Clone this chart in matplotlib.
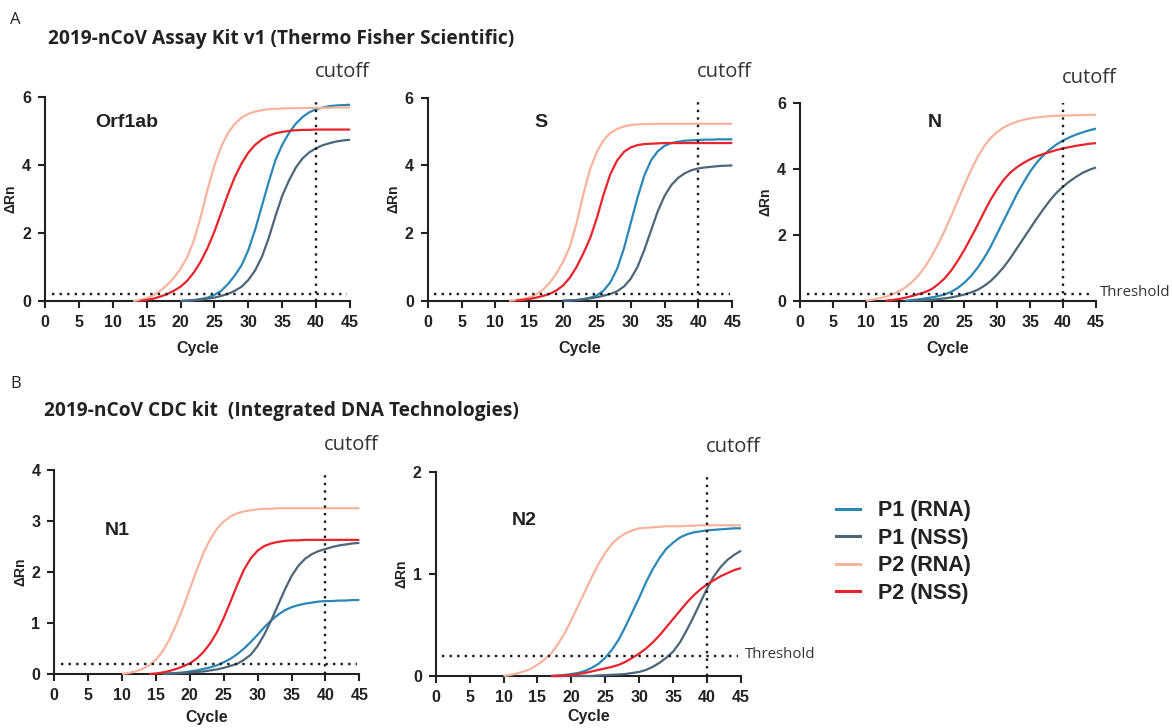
import numpy as np
import matplotlib
matplotlib.use("Agg")
import matplotlib.pyplot as plt
from matplotlib.lines import Line2D

# ---- data (delta Rn per cycle, each curve starts at its first cycle) ----
series_names = ["P1 (RNA)", "P1 (NSS)", "P2 (RNA)", "P2 (NSS)"]
series_colors = ["#2b88b6", "#4c6679", "#f8b39d", "#e8232b"]

orf1ab_start = [20, 20, 13, 14]
orf1ab_p1_rna = [0.0, 0.01, 0.03, 0.06, 0.1, 0.18, 0.3, 0.5, 0.75, 1.05, 1.5, 2.1, 2.8, 3.5, 4.15, 4.6,
                 4.95, 5.22, 5.42, 5.56, 5.65, 5.7, 5.74, 5.76, 5.77, 5.78]
orf1ab_p1_nss = [0.0, 0.01, 0.02, 0.04, 0.07, 0.1, 0.15, 0.21, 0.3, 0.42, 0.62, 0.9, 1.3, 1.85, 2.5, 3.1,
                 3.55, 3.93, 4.2, 4.38, 4.5, 4.59, 4.65, 4.7, 4.73, 4.75]
orf1ab_p2_rna = [0.0, 0.03, 0.08, 0.17, 0.3, 0.47, 0.68, 0.95, 1.3, 1.8, 2.5, 3.3, 4.0, 4.55, 4.95, 5.22,
                 5.4, 5.51, 5.58, 5.62, 5.65, 5.66, 5.67, 5.68, 5.68, 5.68, 5.69, 5.69, 5.69, 5.69, 5.7,
                 5.7, 5.7]
orf1ab_p2_nss = [0.0, 0.03, 0.07, 0.13, 0.2, 0.3, 0.42, 0.6, 0.85, 1.17, 1.57, 2.05, 2.6, 3.15, 3.65,
                 4.05, 4.37, 4.6, 4.76, 4.87, 4.94, 4.98, 5.01, 5.03, 5.04, 5.04, 5.05, 5.05, 5.05, 5.05,
                 5.05, 5.05]

s_start = [20, 20, 12, 13]
s_p1_rna = [0.0, 0.01, 0.02, 0.05, 0.09, 0.16, 0.3, 0.55, 0.95, 1.55, 2.3, 3.05, 3.7, 4.15, 4.42, 4.58,
            4.66, 4.7, 4.73, 4.74, 4.75, 4.76, 4.76, 4.77, 4.77, 4.77]
s_p1_nss = [0.0, 0.01, 0.02, 0.04, 0.07, 0.1, 0.15, 0.2, 0.28, 0.42, 0.65, 1.0, 1.5, 2.08, 2.65, 3.1, 3.42,
            3.63, 3.77, 3.86, 3.91, 3.94, 3.96, 3.98, 3.99, 4.0]
s_p2_rna = [0.0, 0.02, 0.05, 0.1, 0.18, 0.32, 0.52, 0.8, 1.15, 1.6, 2.3, 3.15, 3.9, 4.4, 4.75, 4.96,
            5.08, 5.15, 5.19, 5.21, 5.22, 5.22, 5.23, 5.23, 5.23, 5.23, 5.23, 5.23, 5.23, 5.23, 5.23,
            5.23, 5.23, 5.23]
s_p2_nss = [0.0, 0.02, 0.05, 0.09, 0.14, 0.2, 0.3, 0.45, 0.68, 1.0, 1.4, 1.85, 2.45, 3.15, 3.75, 4.15,
            4.4, 4.53, 4.6, 4.63, 4.64, 4.65, 4.66, 4.66, 4.66, 4.66, 4.66, 4.66, 4.66, 4.66, 4.66,
            4.66, 4.66]

n_start = [16, 17, 10, 13]
n_p1_rna = [0.0, 0.02, 0.04, 0.07, 0.1, 0.14, 0.19, 0.27, 0.39, 0.55, 0.75, 1.0, 1.3, 1.65, 2.05, 2.45,
            2.85, 3.25, 3.6, 3.93, 4.2, 4.42, 4.6, 4.75, 4.87, 4.97, 5.05, 5.12, 5.18, 5.23]
n_p1_nss = [0.0, 0.01, 0.02, 0.03, 0.05, 0.07, 0.1, 0.14, 0.19, 0.25, 0.33, 0.45, 0.6, 0.8, 1.03, 1.3,
            1.6, 1.9, 2.2, 2.5, 2.78, 3.05, 3.28, 3.47, 3.63, 3.77, 3.89, 3.98, 4.05]
n_p2_rna = [0.0, 0.03, 0.07, 0.12, 0.19, 0.28, 0.4, 0.56, 0.77, 1.03, 1.35, 1.72, 2.13, 2.58, 3.05, 3.52,
            3.97, 4.37, 4.7, 4.95, 5.13, 5.27, 5.37, 5.44, 5.5, 5.54, 5.57, 5.59, 5.61, 5.62, 5.63,
            5.63, 5.64, 5.64, 5.65, 5.65]
n_p2_nss = [0.0, 0.02, 0.05, 0.09, 0.14, 0.2, 0.26, 0.35, 0.5, 0.68, 0.92, 1.22, 1.55, 1.92, 2.3, 2.7,
            3.08, 3.4, 3.68, 3.9, 4.06, 4.19, 4.3, 4.39, 4.46, 4.52, 4.58, 4.63, 4.67, 4.71, 4.74,
            4.77, 4.79]

n1_start = [16, 16, 10, 14]
n1_p1_rna = [0.0, 0.01, 0.02, 0.03, 0.05, 0.07, 0.1, 0.13, 0.17, 0.23, 0.3, 0.39, 0.5, 0.63, 0.77, 0.92,
             1.05, 1.16, 1.25, 1.31, 1.35, 1.38, 1.4, 1.42, 1.43, 1.43, 1.44, 1.44, 1.45, 1.45]
n1_p1_nss = [0.0, 0.01, 0.01, 0.02, 0.03, 0.04, 0.05, 0.07, 0.09, 0.12, 0.16, 0.2, 0.28, 0.38, 0.55,
             0.78, 1.05, 1.35, 1.65, 1.92, 2.12, 2.26, 2.35, 2.41, 2.45, 2.49, 2.52, 2.54, 2.56, 2.57]
n1_p2_rna = [0.0, 0.02, 0.05, 0.1, 0.17, 0.28, 0.45, 0.68, 0.97, 1.3, 1.67, 2.03, 2.37, 2.64, 2.85, 2.99,
             3.09, 3.15, 3.19, 3.21, 3.23, 3.24, 3.24, 3.25, 3.25, 3.25, 3.25, 3.25, 3.25, 3.25, 3.25,
             3.25, 3.25, 3.25, 3.25, 3.25]
n1_p2_nss = [0.0, 0.01, 0.03, 0.06, 0.1, 0.15, 0.21, 0.3, 0.43, 0.6, 0.82, 1.1, 1.42, 1.75, 2.05, 2.27,
             2.42, 2.51, 2.56, 2.59, 2.61, 2.62, 2.62, 2.63, 2.63, 2.63, 2.63, 2.63, 2.63, 2.63, 2.63,
             2.63]

n2_start = [17, 17, 10, 17]
n2_p1_rna = [0.0, 0.005, 0.01, 0.02, 0.03, 0.05, 0.08, 0.12, 0.18, 0.26, 0.36, 0.49, 0.63, 0.77, 0.92,
             1.05, 1.16, 1.25, 1.31, 1.36, 1.39, 1.41, 1.42, 1.43, 1.435, 1.44, 1.445, 1.45, 1.45]
n2_p1_nss = [0.0, 0.0, 0.0, 0.0, 0.0, 0.0, 0.0, 0.005, 0.008, 0.012, 0.015, 0.02, 0.03, 0.04, 0.06, 0.09,
             0.13, 0.18, 0.24, 0.33, 0.45, 0.58, 0.72, 0.86, 0.98, 1.07, 1.14, 1.19, 1.23]
n2_p2_rna = [0.0, 0.01, 0.025, 0.045, 0.07, 0.11, 0.16, 0.22, 0.31, 0.42, 0.55, 0.69, 0.83, 0.97, 1.1,
             1.21, 1.3, 1.36, 1.4, 1.43, 1.45, 1.455, 1.46, 1.465, 1.47, 1.47, 1.47, 1.475, 1.475, 1.48,
             1.48, 1.48, 1.48, 1.48, 1.48, 1.48]
n2_p2_nss = [0.0, 0.0, 0.005, 0.01, 0.02, 0.03, 0.045, 0.06, 0.075, 0.09, 0.11, 0.14, 0.18, 0.22, 0.27,
             0.33, 0.4, 0.48, 0.56, 0.64, 0.72, 0.79, 0.85, 0.9, 0.94, 0.98, 1.01, 1.04, 1.06]

threshold = 0.2
cutoff = 40
x_ticks = [0, 5, 10, 15, 20, 25, 30, 35, 40, 45]

W, H = 1172, 728
plt.rcParams["font.family"] = ["Liberation Sans", "DejaVu Sans"]


def fig_box(x0, y0, x1, y1):
    # pixel box -> figure fraction
    return [x0 / W, 1 - y1 / H, (x1 - x0) / W, (y1 - y0) / H]


def draw_panel(fig, box, starts, curves, ymax, yticks, label, label_xy, show_threshold_text,
               xlabel_pad=8):
    ax = fig.add_axes(fig_box(*box))
    for start, vals, color in zip(starts, curves, series_colors):
        cyc = np.arange(start, start + len(vals))
        ax.plot(cyc, vals, color=color, lw=1.6, solid_capstyle="butt", solid_joinstyle="round",
                clip_on=False, zorder=3)
    ax.plot([1, 44.6], [threshold, threshold], color="#1a1a1a", lw=1.7,
            linestyle=(0, (1, 2.2)), zorder=4)
    ax.plot([cutoff, cutoff], [0, ymax], color="#1a1a1a", lw=1.7,
            linestyle=(0, (1, 2.2)), zorder=4, clip_on=False)
    ax.set_xlim(0, 45)
    ax.set_ylim(0, ymax)
    ax.set_xticks(x_ticks)
    ax.set_yticks(yticks)
    for side in ["top", "right"]:
        ax.spines[side].set_visible(False)
    for side in ["left", "bottom"]:
        ax.spines[side].set_linewidth(1.5)
        ax.spines[side].set_color("#222222")
    ax.tick_params(direction="out", length=5, width=1.5, color="#222222", labelsize=11.5,
                   pad=5)
    for t in ax.get_xticklabels() + ax.get_yticklabels():
        t.set_fontweight("bold")
        t.set_color("#222222")
    ax.set_xlabel("Cycle", fontsize=11.5, fontweight="bold", color="#222222", labelpad=xlabel_pad)
    ax.set_ylabel("\u0394Rn", fontsize=10, fontweight="bold", color="#222222", labelpad=3)
    ax.text(label_xy[0], label_xy[1], label, fontsize=14, fontweight="bold", color="#222222",
            ha="left", va="center")
    ax.annotate("cutoff", xy=(cutoff, 1), xycoords=("data", "axes fraction"),
                xytext=(-1, 11), textcoords="offset points", fontsize=14.5,
                family="Open Sans", color="#333333", ha="left", va="bottom")
    if show_threshold_text:
        ax.annotate("Threshold", xy=(45, threshold), xycoords="data", xytext=(3, 1),
                    textcoords="offset points", fontsize=10.8, family="Open Sans",
                    color="#333333", ha="left", va="center", annotation_clip=False)
    return ax


fig = plt.figure(figsize=(W / 100, H / 100), dpi=100)

draw_panel(fig, (45, 97.3, 350, 301), orf1ab_start,
           [orf1ab_p1_rna, orf1ab_p1_nss, orf1ab_p2_rna, orf1ab_p2_nss],
           6, [0, 2, 4, 6], "Orf1ab", (7.4, 5.25), False)
draw_panel(fig, (427.7, 97.7, 732.3, 300.7), s_start,
           [s_p1_rna, s_p1_nss, s_p2_rna, s_p2_nss],
           6, [0, 2, 4, 6], "S", (15.8, 5.28), False)
draw_panel(fig, (800, 103.3, 1096, 300.7), n_start,
           [n_p1_rna, n_p1_nss, n_p2_rna, n_p2_nss],
           6, [0, 2, 4, 6], "N", (19.4, 5.43), True)
draw_panel(fig, (54.3, 470, 359.3, 674), n1_start,
           [n1_p1_rna, n1_p1_nss, n1_p2_rna, n1_p2_nss],
           4, [0, 1, 2, 3, 4], "N1", (7.4, 2.82), False, xlabel_pad=5)
draw_panel(fig, (435.7, 472.3, 741, 676), n2_start,
           [n2_p1_rna, n2_p1_nss, n2_p2_rna, n2_p2_nss],
           2, [0, 1, 2], "N2", (11.2, 1.53), True, xlabel_pad=3)

# headings
fig.text(10 / W, 1 - 20 / H, "A", fontsize=12, family="Open Sans", color="#222222", va="center")
fig.text(48 / W, 1 - 39 / H, "2019-nCoV Assay Kit v1 (Thermo Fisher Scientific)", fontsize=13.8,
         family="Open Sans", fontweight="bold", color="#222222", va="center")
fig.text(10 / W, 1 - 384 / H, "B", fontsize=12, family="Open Sans", color="#222222", va="center")
fig.text(44 / W, 1 - 411 / H, "2019-nCoV CDC kit  (Integrated DNA Technologies)", fontsize=13.8,
         family="Open Sans", fontweight="bold", color="#222222", va="center")

# legend
handles = [Line2D([0], [0], color=c, lw=2.2) for c in series_colors]
leg = fig.legend(handles, series_names, loc="upper left", bbox_to_anchor=(817 / W, 1 - 481 / H),
                 frameon=False, handlelength=1.1, handletextpad=0.85, labelspacing=0.3,
                 prop={"size": 15.5, "weight": "bold"})
for t in leg.get_texts():
    t.set_color("#222222")

fig.savefig("out.png", dpi=100)
